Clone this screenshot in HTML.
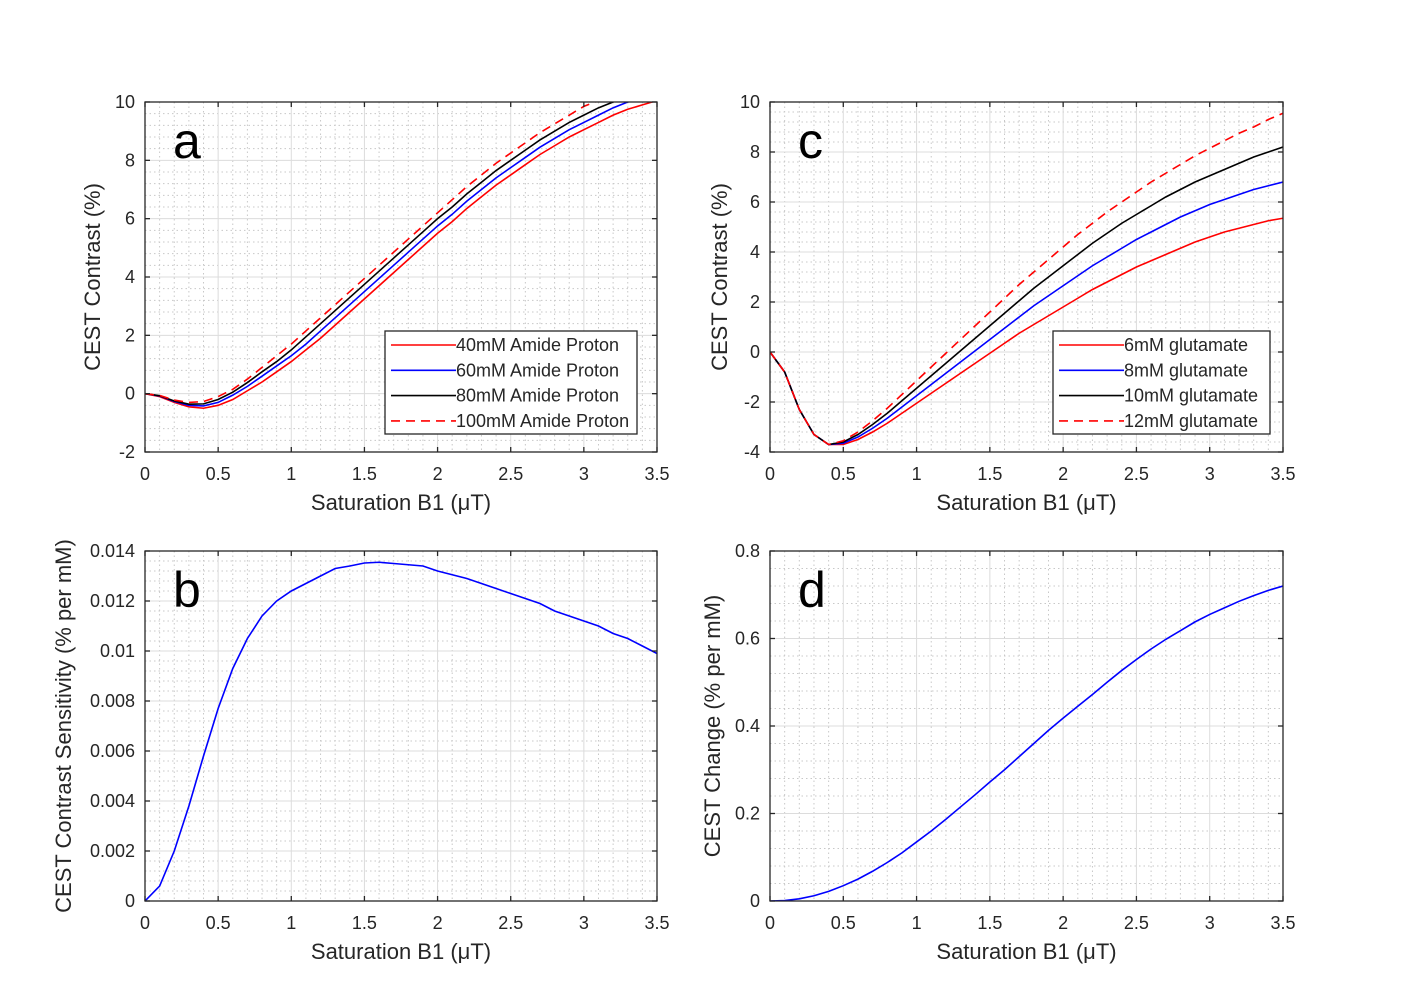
<!DOCTYPE html>
<html><head><meta charset="utf-8"><style>
html,body{margin:0;padding:0;background:#fff;}
svg{display:block;font-family:"Liberation Sans",Arial,sans-serif;}
</style></head><body>
<svg id="fig" width="1428" height="1001" viewBox="0 0 1428 1001" xmlns="http://www.w3.org/2000/svg"></svg>
<script>
const xs = [0,0.1,0.2,0.3,0.4,0.5,0.6,0.7,0.8,0.9,1.0,1.1,1.2,1.3,1.4,1.5,1.6,1.7,1.8,1.9,2.0,2.1,2.2,2.3,2.4,2.5,2.6,2.7,2.8,2.9,3.0,3.1,3.2,3.3,3.4,3.5];
const xTicks = [0,0.5,1,1.5,2,2.5,3,3.5];
const xTickLabels = ["0","0.5","1","1.5","2","2.5","3","3.5"];
// panel a
const a40 = [0,-.1,-.3,-.45,-.5,-.4,-.2,.1,.4,.75,1.1,1.5,1.9,2.35,2.8,3.25,3.7,4.15,4.6,5.05,5.5,5.9,6.35,6.75,7.15,7.5,7.85,8.2,8.5,8.8,9.05,9.3,9.55,9.75,9.9,10.05];
const a60 = [0,-.08,-.27,-.4,-.42,-.3,-.05,.25,.6,.95,1.3,1.7,2.15,2.6,3.05,3.5,3.95,4.4,4.85,5.3,5.75,6.15,6.6,7.0,7.4,7.75,8.1,8.45,8.75,9.05,9.3,9.55,9.8,10,10.1,10.2];
const a80 = [0,-.07,-.25,-.36,-.35,-.2,.05,.38,.75,1.1,1.5,1.95,2.4,2.85,3.3,3.75,4.2,4.65,5.1,5.55,6.0,6.4,6.85,7.25,7.65,8.0,8.35,8.7,9.0,9.3,9.55,9.8,10.0,10.2,10.3,10.4];
const a100 = [0,-.06,-.22,-.3,-.27,-.1,.15,.5,.9,1.3,1.7,2.15,2.6,3.05,3.5,3.95,4.4,4.85,5.3,5.75,6.2,6.65,7.1,7.5,7.9,8.25,8.6,8.95,9.25,9.55,9.85,10.05,10.2,10.3,10.4,10.5];
const aYTicks = [-2,0,2,4,6,8,10];
// panel c
const c6 = [0,-.8,-2.3,-3.3,-3.7,-3.7,-3.5,-3.2,-2.85,-2.45,-2.05,-1.65,-1.25,-.85,-.45,-.05,.35,.75,1.1,1.45,1.8,2.15,2.5,2.8,3.1,3.4,3.65,3.9,4.15,4.4,4.6,4.8,4.95,5.1,5.25,5.35];
const c8 = [0,-.8,-2.3,-3.3,-3.7,-3.65,-3.4,-3.05,-2.65,-2.2,-1.75,-1.3,-.85,-.4,.05,.5,.95,1.4,1.85,2.25,2.65,3.05,3.45,3.8,4.15,4.5,4.8,5.1,5.4,5.65,5.9,6.1,6.3,6.5,6.65,6.8];
const c10 = [0,-.8,-2.3,-3.3,-3.7,-3.6,-3.3,-2.9,-2.45,-1.95,-1.45,-.95,-.45,.05,.55,1.05,1.55,2.05,2.55,3.0,3.45,3.9,4.35,4.75,5.15,5.5,5.85,6.2,6.5,6.8,7.05,7.3,7.55,7.8,8.0,8.2];
const c12 = [0,-.8,-2.3,-3.3,-3.7,-3.55,-3.2,-2.75,-2.25,-1.7,-1.15,-.6,-.05,.5,1.05,1.6,2.15,2.7,3.2,3.7,4.2,4.7,5.15,5.6,6.0,6.4,6.8,7.15,7.5,7.85,8.15,8.45,8.75,9.0,9.3,9.55];
const cYTicks = [-4,-2,0,2,4,6,8,10];
// panel b
const bVals = [0,.0006,.002,.0038,.0058,.0077,.0093,.0105,.0114,.012,.0124,.0127,.013,.0133,.0134,.01352,.01355,.0135,.01345,.0134,.0132,.01305,.0129,.0127,.0125,.0123,.0121,.0119,.0116,.0114,.0112,.011,.0107,.0105,.0102,.0099];
const bYTicks = [0,0.002,0.004,0.006,0.008,0.01,0.012,0.014];
// panel d
const dVals = [0,.001,.005,.012,.022,.035,.05,.068,.088,.11,.135,.16,.187,.215,.243,.272,.3,.33,.36,.39,.418,.445,.472,.5,.527,.552,.576,.598,.618,.638,.655,.67,.685,.698,.71,.72];
const dYTicks = [0,0.2,0.4,0.6,0.8];

const NS="http://www.w3.org/2000/svg";
const svg=document.getElementById('fig');
function mk(tag,attrs,parent){const e=document.createElementNS(NS,tag);for(const k in attrs)e.setAttribute(k,attrs[k]);(parent||svg).appendChild(e);return e;}

function panel(id,L,T,R,B,yMin,yMax,yTicks,yLabel,letter,series,legend,legendBox){
  const g=mk('g',{});
  
  
  const sx=v=>L+(v-0)/(3.5-0)*(R-L);
  const sy=v=>B-(v-yMin)/(yMax-yMin)*(B-T);
  const grid=mk('g',{stroke:'#c8c8c8','stroke-width':1,'stroke-dasharray':'1.5,3'},g);
  
  
  for(let i=1;i<35;i++){if(i%5===0)continue;const x=sx(i*0.1);mk('line',{x1:x,x2:x,y1:T,y2:B},grid);}
  const ystep=(yTicks[1]-yTicks[0])/5;
  for(let i=1;i<(yMax-yMin)/ystep-0.01;i++){if(i%5===0)continue;const y=sy(yMin+i*ystep);mk('line',{x1:L,x2:R,y1:y,y2:y},grid);}
  const mg=mk('g',{stroke:'#dcdcdc','stroke-width':1},g);
  
  
  xTicks.forEach(t=>{const x=sx(t);mk('line',{x1:x,x2:x,y1:T,y2:B},mg);});
  yTicks.forEach(t=>{const y=sy(t);mk('line',{x1:L,x2:R,y1:y,y2:y},mg);});
  const cp=mk('clipPath',{id:'clip'+id},g);mk('rect',{x:L,y:T,width:R-L,height:B-T},cp);
  const sg=mk('g',{'clip-path':'url(#clip'+id+')'},g);
  series.forEach(s=>{
    const d=xs.map((x,i)=>(i?'L':'M')+sx(x).toFixed(2)+','+sy(s.v[i]).toFixed(2)).join('');
    const p=mk('path',{d:d,fill:'none',stroke:s.c,'stroke-width':1.6},sg);
    if(s.dash)p.setAttribute('stroke-dasharray','9,6');
    
    
  });
  const ax=mk('rect',{x:L,y:T,width:R-L,height:B-T,fill:'none',stroke:'#262626','stroke-width':1.3},g);
  
  
  const tk=mk('g',{stroke:'#262626','stroke-width':1.3},g);
  xTicks.forEach(t=>{const x=sx(t);mk('line',{x1:x,x2:x,y1:B,y2:B-5},tk);mk('line',{x1:x,x2:x,y1:T,y2:T+5},tk);});
  yTicks.forEach(t=>{const y=sy(t);mk('line',{x1:L,x2:L+5,y1:y,y2:y},tk);mk('line',{x1:R,x2:R-5,y1:y,y2:y},tk);});
  xTicks.forEach((t,i)=>{const e=mk('text',{x:sx(t),y:B+28,'text-anchor':'middle','font-size':18,fill:'#262626'},g);e.textContent=xTickLabels[i];
    });
  yTicks.forEach(t=>{const e=mk('text',{x:L-10,y:sy(t)+6,'text-anchor':'end','font-size':18,fill:'#262626'},g);e.textContent=String(t);
    });
  const xl=mk('text',{x:(L+R)/2,y:B+58,'text-anchor':'middle','font-size':22,fill:'#262626'},g);xl.textContent='Saturation B1 (\u03bcT)';
  
  const yl=mk('text',{x:0,y:0,'text-anchor':'middle','font-size':22,fill:'#262626',transform:`translate(${yLabel.x},${(T+B)/2}) rotate(-90)`},g);yl.textContent=yLabel.t;
  
  const lt=mk('text',{x:L+28,y:T+56,'font-size':50,fill:'#000'},g);lt.textContent=letter;
  
  if(legend){
    const lg=mk('g',{},g);
    
    mk('rect',{x:legendBox.x,y:legendBox.y,width:legendBox.w,height:legendBox.h,fill:'#fff',stroke:'#262626','stroke-width':1.3},lg);
    series.forEach((s,i)=>{
      const y=legendBox.y+14+i*25.3;
      const ln=mk('line',{x1:legendBox.x+6,x2:legendBox.x+71,y1:y,y2:y,stroke:s.c,'stroke-width':1.6},lg);
      if(s.dash)ln.setAttribute('stroke-dasharray','9,6');
      const e=mk('text',{x:legendBox.x+71,y:y+6,'font-size':18,fill:'#262626'},lg);e.textContent=legend[i];
      
    });
  }
}
panel('a',145,102,657,452,-2,10,aYTicks,{x:100,t:'CEST Contrast (%)'},'a',
  [{n:'40mM',v:a40,c:'#ff0000'},{n:'60mM',v:a60,c:'#0000ff'},{n:'80mM',v:a80,c:'#000000'},{n:'100mM',v:a100,c:'#ff0000',dash:true}],
  ['40mM Amide Proton','60mM Amide Proton','80mM Amide Proton','100mM Amide Proton'],{x:385,y:331,w:252,h:103});
panel('c',770,102,1283,452,-4,10,cYTicks,{x:727,t:'CEST Contrast (%)'},'c',
  [{n:'6mM',v:c6,c:'#ff0000'},{n:'8mM',v:c8,c:'#0000ff'},{n:'10mM',v:c10,c:'#000000'},{n:'12mM',v:c12,c:'#ff0000',dash:true}],
  ['6mM glutamate','8mM glutamate','10mM glutamate','12mM glutamate'],{x:1053,y:331,w:217,h:103});
panel('b',145,551,657,901,0,0.014,bYTicks,{x:71,t:'CEST Contrast Sensitivity (% per mM)'},'b',
  [{n:'sensitivity',v:bVals,c:'#0000ff'}],null,null);
panel('d',770,551,1283,901,0,0.8,dYTicks,{x:720,t:'CEST Change (% per mM)'},'d',
  [{n:'change',v:dVals,c:'#0000ff'}],null,null);
</script>
</body></html>
